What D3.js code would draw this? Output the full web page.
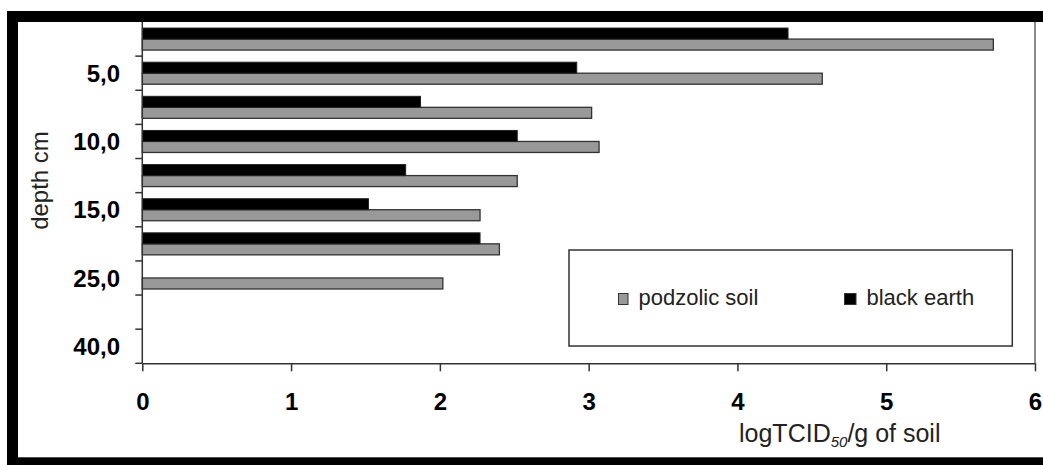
<!DOCTYPE html>
<html>
<head>
<meta charset="utf-8">
<script src="https://cdn.jsdelivr.net/npm/d3@7"></script>
<style>
	body { margin: 0; background: #fff; }
	svg { display: block; font-family: "Liberation Sans", Arial, sans-serif; }
</style>
</head>
<body>
<div id="chartBox"></div>
<script>
// depth categories, top to bottom (only every second one is labelled)
var categories = ["2,5", "5,0", "7,5", "10,0", "12,5", "15,0", "20,0", "25,0", "30,0", "40,0"];
var podzolic = [5.72, 4.57, 3.02, 3.07, 2.52, 2.27, 2.40, 2.02, null, null];
var blackEarth = [4.34, 2.92, 1.87, 2.52, 1.77, 1.52, 2.27, null, null, null];
var xTicks = [0, 1, 2, 3, 4, 5, 6];
var seriesNames = ["podzolic soil", "black earth"];
var seriesColors = ["#999999", "#000000"];

var width = 1043, height = 465;
var plotLeft = 142.3, plotRight = 1035, plotTop = 22, plotBottom = 363.3;

var svg = d3.select('#chartBox').append('svg')
	.attr('width', width)
	.attr('height', height);

// black frame (right side is cut off in the original)
svg.append('rect')
	.attr('x', 7).attr('y', 11)
	.attr('width', width).attr('height', height)
	.attr('fill', '#000');
svg.append('rect')
	.attr('x', 18).attr('y', 22)
	.attr('width', width).attr('height', 457.3 - 22)
	.attr('fill', '#fff');

var x = d3.scaleLinear()
	.domain([0, 6])
	.range([plotLeft, plotRight]);

var pad = 0.355;
var y = d3.scaleBand()
	.domain(categories)
	.range([plotTop, plotBottom])
	.paddingInner(pad)
	.paddingOuter(pad / 2);

// black on top, grey below inside each band
var sub = d3.scaleBand()
	.domain(["black", "podzolic"])
	.range([0, y.bandwidth()]);

var rows = categories.map(function(c, i) {
	return { cat: c, podzolic: podzolic[i], black: blackEarth[i] };
});

// right border of plot area
svg.append('line')
	.attr('x1', plotRight).attr('x2', plotRight)
	.attr('y1', plotTop).attr('y2', plotBottom)
	.attr('stroke', '#8a8a8a')
	.attr('stroke-width', 2);

var bars = svg.append('g');
bars.selectAll('rect.pod')
	.data(rows.filter(function(d) { return d.podzolic != null; }))
	.enter().append('rect')
	.attr('class', 'pod')
	.attr('x', x(0))
	.attr('y', function(d) { return y(d.cat) + sub('podzolic'); })
	.attr('width', function(d) { return x(d.podzolic) - x(0); })
	.attr('height', sub.bandwidth())
	.attr('fill', seriesColors[0])
	.attr('stroke', '#333')
	.attr('stroke-width', 1.3);

bars.selectAll('rect.blk')
	.data(rows.filter(function(d) { return d.black != null; }))
	.enter().append('rect')
	.attr('class', 'blk')
	.attr('x', x(0))
	.attr('y', function(d) { return y(d.cat) + sub('black'); })
	.attr('width', function(d) { return x(d.black) - x(0); })
	.attr('height', sub.bandwidth())
	.attr('fill', seriesColors[1])
	.attr('stroke', '#222')
	.attr('stroke-width', 1);

// category axis: ticks on band boundaries, label every second category
var yAxis = svg.append('g');
yAxis.append('line')
	.attr('x1', plotLeft).attr('x2', plotLeft)
	.attr('y1', plotTop).attr('y2', plotBottom)
	.attr('stroke', '#333').attr('stroke-width', 1.5);
yAxis.selectAll('line.tick')
	.data(categories)
	.enter().append('line')
	.attr('class', 'tick')
	.attr('x1', plotLeft - 7).attr('x2', plotLeft)
	.attr('y1', function(c) { return y(c) - y.step() * pad / 2 + y.step(); })
	.attr('y2', function(c) { return y(c) - y.step() * pad / 2 + y.step(); })
	.attr('stroke', '#333').attr('stroke-width', 1.5);
yAxis.selectAll('text')
	.data(categories.filter(function(c, i) { return i % 2 == 1; }))
	.enter().append('text')
	.attr('x', 120)
	.attr('y', function(c) { return y(c) + y.bandwidth() / 2; })
	.attr('dy', '0.36em')
	.attr('text-anchor', 'end')
	.style('font-size', '24px')
	.style('font-weight', 'bold')
	.text(function(c) { return c; });

// value axis
var xAxis = svg.append('g')
	.attr('transform', 'translate(0,' + plotBottom + ')')
	.call(d3.axisBottom(x).tickValues(xTicks).tickFormat(d3.format('d'))
		.tickSize(8).tickPadding(22).tickSizeOuter(0));
xAxis.select('.domain').attr('stroke', '#333').attr('stroke-width', 1.5);
xAxis.selectAll('.tick line').attr('stroke', '#333').attr('stroke-width', 1.5);
xAxis.selectAll('.tick text')
	.attr('fill', '#000')
	.style('font-family', '"Liberation Sans", Arial, sans-serif')
	.style('font-size', '24px')
	.style('font-weight', 'bold');

// axis titles
svg.append('text')
	.attr('transform', 'translate(48,180.5) rotate(-90)')
	.attr('text-anchor', 'middle')
	.attr('fill', '#222')
	.style('font-size', '24px')
	.text('depth cm');

var xTitle = svg.append('text')
	.attr('x', 739).attr('y', 442)
	.attr('fill', '#222')
	.style('font-size', '25px');
xTitle.append('tspan').text('logTCID');
xTitle.append('tspan').attr('dy', 5).style('font-size', '15px').style('font-style', 'italic').text('50');
xTitle.append('tspan').attr('dy', -5).text('/g of soil');

// legend
var legend = svg.append('g');
legend.append('rect')
	.attr('x', 569).attr('y', 250)
	.attr('width', 1012.3 - 569).attr('height', 346 - 250)
	.attr('fill', '#fff')
	.attr('stroke', '#333')
	.attr('stroke-width', 1.5);
var legendX = [618.5, 844.5];
seriesNames.forEach(function(name, i) {
	legend.append('rect')
		.attr('x', legendX[i]).attr('y', 293.5)
		.attr('width', i == 0 ? 9.5 : 11.5).attr('height', 11)
		.attr('fill', seriesColors[i])
		.attr('stroke', '#333')
		.attr('stroke-width', 1);
	legend.append('text')
		.attr('x', legendX[i] + (i == 0 ? 20 : 22))
		.attr('y', 305)
		.attr('fill', '#222')
		.style('font-size', '22px')
		.text(name);
});
</script>
</body>
</html>
